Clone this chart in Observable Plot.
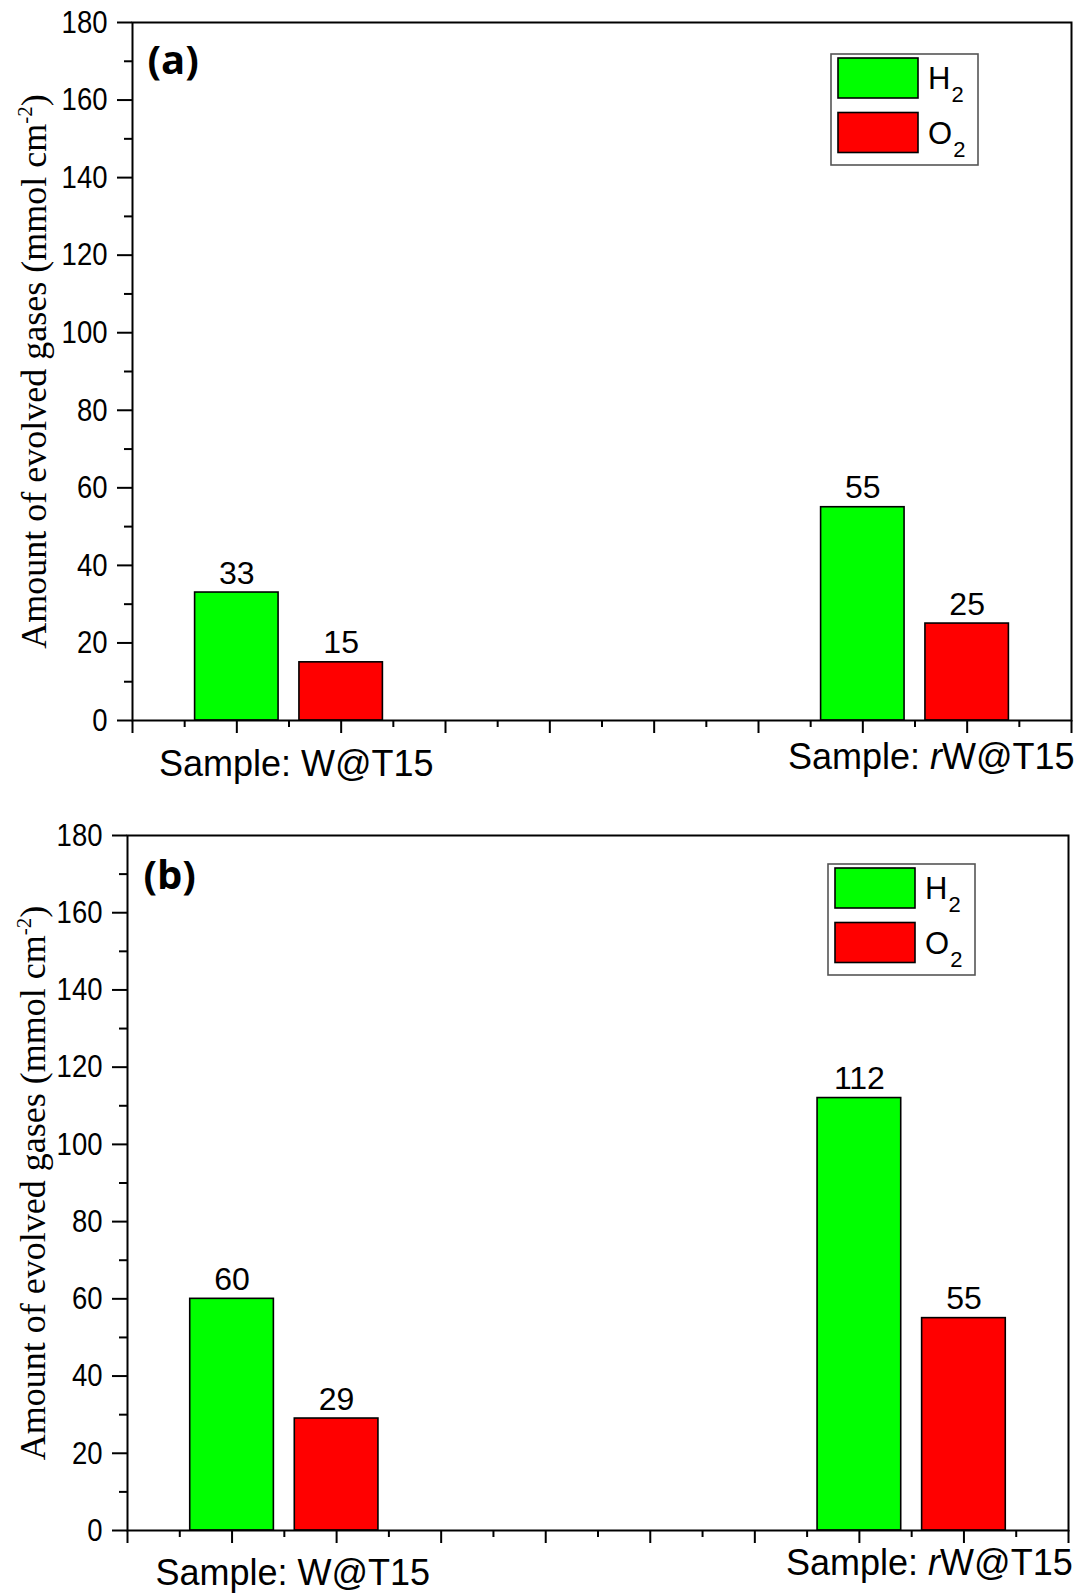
<!DOCTYPE html>
<html>
<head>
<meta charset="utf-8">
<script src="https://cdn.jsdelivr.net/npm/d3@7"></script>
<script src="https://cdn.jsdelivr.net/npm/@observablehq/plot@0.6"></script>
<style>
  html, body { margin: 0; padding: 0; background: #ffffff; }
  #chart { width: 1082px; }
  #chart svg { display: block; overflow: visible; }
</style>
</head>
<body>
<div id="chart"></div>
<script>
// ---- data ----
const samples = ["W@T15", "rW@T15"];
const gases = ["H2", "O2"];
const gasColors = ["#00ff00", "#ff0000"];
const h2A = [33, 55];
const o2A = [15, 25];
const h2B = [60, 112];
const o2B = [29, 55];
const panelLetters = ["(a)", "(b)"];
const yTickValues = [0, 20, 40, 60, 80, 100, 120, 140, 160, 180];
const yTitle = "Amount of evolved gases (mmol cm-2)";

// ---- layout ----
const SANS = "Liberation Sans, Arial, sans-serif";
const TICK_FS = 32;
const groupCenter = {"W@T15": 1.5, "rW@T15": 7.5};
const gasOffset = {"H2": -0.5, "O2": 0.5};
const barHalf = 0.4;

function makeTable(h2, o2) {
  return samples.flatMap((s, i) => [
    {sample: s, gas: "H2", value: h2[i]},
    {sample: s, gas: "O2", value: o2[i]}
  ]);
}
const pos = d => groupCenter[d.sample] + gasOffset[d.gas];

function panel(cfg) {
  const table = makeTable(cfg.h2, cfg.o2);
  const chart = Plot.plot({
    width: 1082,
    height: cfg.height,
    marginTop: cfg.mt,
    marginBottom: cfg.mb,
    marginLeft: cfg.ml,
    marginRight: cfg.mr,
    style: {fontFamily: SANS, fontSize: TICK_FS + "px", color: "black", background: "white", overflow: "visible"},
    x: {type: "linear", domain: [0, 9], axis: null},
    y: {domain: [0, 180], axis: null},
    color: {domain: gases, range: gasColors},
    marks: [
      Plot.rectY(table, {x1: d => pos(d) - barHalf, x2: d => pos(d) + barHalf, y: "value", fill: "gas", stroke: "black", strokeWidth: 1.6}),
      Plot.text(table, {x: pos, y: "value", text: d => String(d.value), dy: -9, lineAnchor: "bottom", fontSize: 32, fontFamily: SANS, fill: "black"}),
      // y axis (major + minor)
      Plot.axisY({ticks: yTickValues, tickSize: 15, tickPadding: 10, strokeWidth: 2, fontSize: TICK_FS, fontFamily: SANS, label: null}),
      Plot.axisY({ticks: d3.range(10, 180, 20), tickSize: 8, strokeWidth: 2, text: null, label: null}),
      // x axis (major + minor), no labels
      Plot.axisX({ticks: d3.range(0, 10, 1), tickSize: 13, strokeWidth: 2, text: null, label: null}),
      Plot.axisX({ticks: d3.range(0.5, 9, 1), tickSize: 7, strokeWidth: 2, text: null, label: null}),
      Plot.frame({stroke: "black", strokeWidth: 2}),
      // sample labels
      Plot.text([samples[0]], {x: () => cfg.label1x, frameAnchor: "bottom", text: d => "Sample: " + d, dy: cfg.label1dy, lineAnchor: "bottom", textAnchor: "middle", fontSize: 36, fontFamily: SANS, fill: "black"}),
      Plot.text([samples[1]], {x: () => cfg.label2x, frameAnchor: "bottom", text: d => "Sample: " + d, dy: cfg.label2dy, lineAnchor: "bottom", textAnchor: "end", fontSize: 36, fontFamily: SANS, fill: "black"}),
      // panel letter
      Plot.text([cfg.letter], {frameAnchor: "top-left", dx: cfg.letterDx, dy: cfg.letterDy, lineAnchor: "bottom", textAnchor: "start", fontFamily: "Open Sans, sans-serif", fontWeight: "bold", fontSize: 40, fill: "black"}),
      // y title
      Plot.text([yTitle], {frameAnchor: "left", rotate: -90, dx: cfg.titleDx, lineAnchor: "middle", textAnchor: "middle", fontFamily: "Liberation Serif, Times New Roman, serif", fontSize: 36, fill: "black"})
    ]
  });

  // tick labels: intended font, slightly condensed like the original
  chart.querySelectorAll('g[aria-label="y-axis tick label"]').forEach(g => {
    g.setAttribute("font-size", String(TICK_FS));
    g.setAttribute("font-family", SANS);
    g.querySelectorAll("text").forEach(t => {
      t.setAttribute("font-size", String(TICK_FS));
      const tr = t.getAttribute("transform") || "";
      t.setAttribute("transform", tr + " scale(0.86,1)");
    });
  });

  // rich text: italic r, superscript -2
  chart.querySelectorAll("text").forEach(t => {
    const s = t.textContent;
    if (s === "Sample: rW@T15") {
      t.textContent = "";
      const a = document.createElementNS("http://www.w3.org/2000/svg", "tspan"); a.textContent = "Sample: ";
      const b = document.createElementNS("http://www.w3.org/2000/svg", "tspan"); b.textContent = "r"; b.setAttribute("font-style", "italic");
      const c = document.createElementNS("http://www.w3.org/2000/svg", "tspan"); c.textContent = "W@T15";
      t.append(a, b, c);
    } else if (s === yTitle) {
      const dyAttr = t.getAttribute("dy");
      t.textContent = "";
      const a = document.createElementNS("http://www.w3.org/2000/svg", "tspan"); a.textContent = "Amount of evolved gases (mmol cm";
      const b = document.createElementNS("http://www.w3.org/2000/svg", "tspan"); b.textContent = "-2"; b.setAttribute("font-size", "21"); b.setAttribute("dy", "-14");
      const c = document.createElementNS("http://www.w3.org/2000/svg", "tspan"); c.textContent = ")"; c.setAttribute("dy", "14");
      t.append(a, b, c);
      if (dyAttr) t.setAttribute("dy", dyAttr);
    }
  });

  // legend (inside frame, top-right)
  const color = chart.scale("color");
  const svg = d3.select(chart);
  const bx = 1082 - cfg.mr - 240, by = cfg.mt + cfg.legendDy;
  const lg = svg.append("g").attr("text-anchor", "start");
  lg.append("rect").attr("x", bx).attr("y", by).attr("width", 147).attr("height", 111)
    .attr("fill", "white").attr("stroke", "#555").attr("stroke-width", 1.6);
  gases.forEach((g, i) => {
    const sy = by + 4 + i * 54.5;
    lg.append("rect").attr("x", bx + 7).attr("y", sy).attr("width", 80).attr("height", 40)
      .attr("fill", color.apply(g)).attr("stroke", "black").attr("stroke-width", 1.6);
    const t = lg.append("text").attr("x", bx + 97).attr("y", sy + 31).attr("text-anchor", "start")
      .attr("font-family", SANS).attr("font-size", 31).attr("fill", "black");
    t.append("tspan").text(g.charAt(0));
    t.append("tspan").attr("font-size", 22).attr("dx", 1).attr("dy", 13).text(g.slice(1));
  });
  return chart;
}

const root = document.getElementById("chart");
root.append(panel({
  h2: h2A, o2: o2A, letter: panelLetters[0], height: 796,
  mt: 22, mb: 76, ml: 132, mr: 11,
  label1x: 1.57, label2x: 9.03, label1dy: 55, label2dy: 48,
  letterDx: 15, letterDy: 51, titleDx: -98, legendDy: 32
}));
root.append(panel({
  h2: h2B, o2: o2B, letter: panelLetters[1], height: 797,
  mt: 39, mb: 63, ml: 127, mr: 14,
  label1x: 1.58, label2x: 9.04, label1dy: 54, label2dy: 44,
  letterDx: 16, letterDy: 53, titleDx: -94, legendDy: 29
}));
</script>
</body>
</html>
